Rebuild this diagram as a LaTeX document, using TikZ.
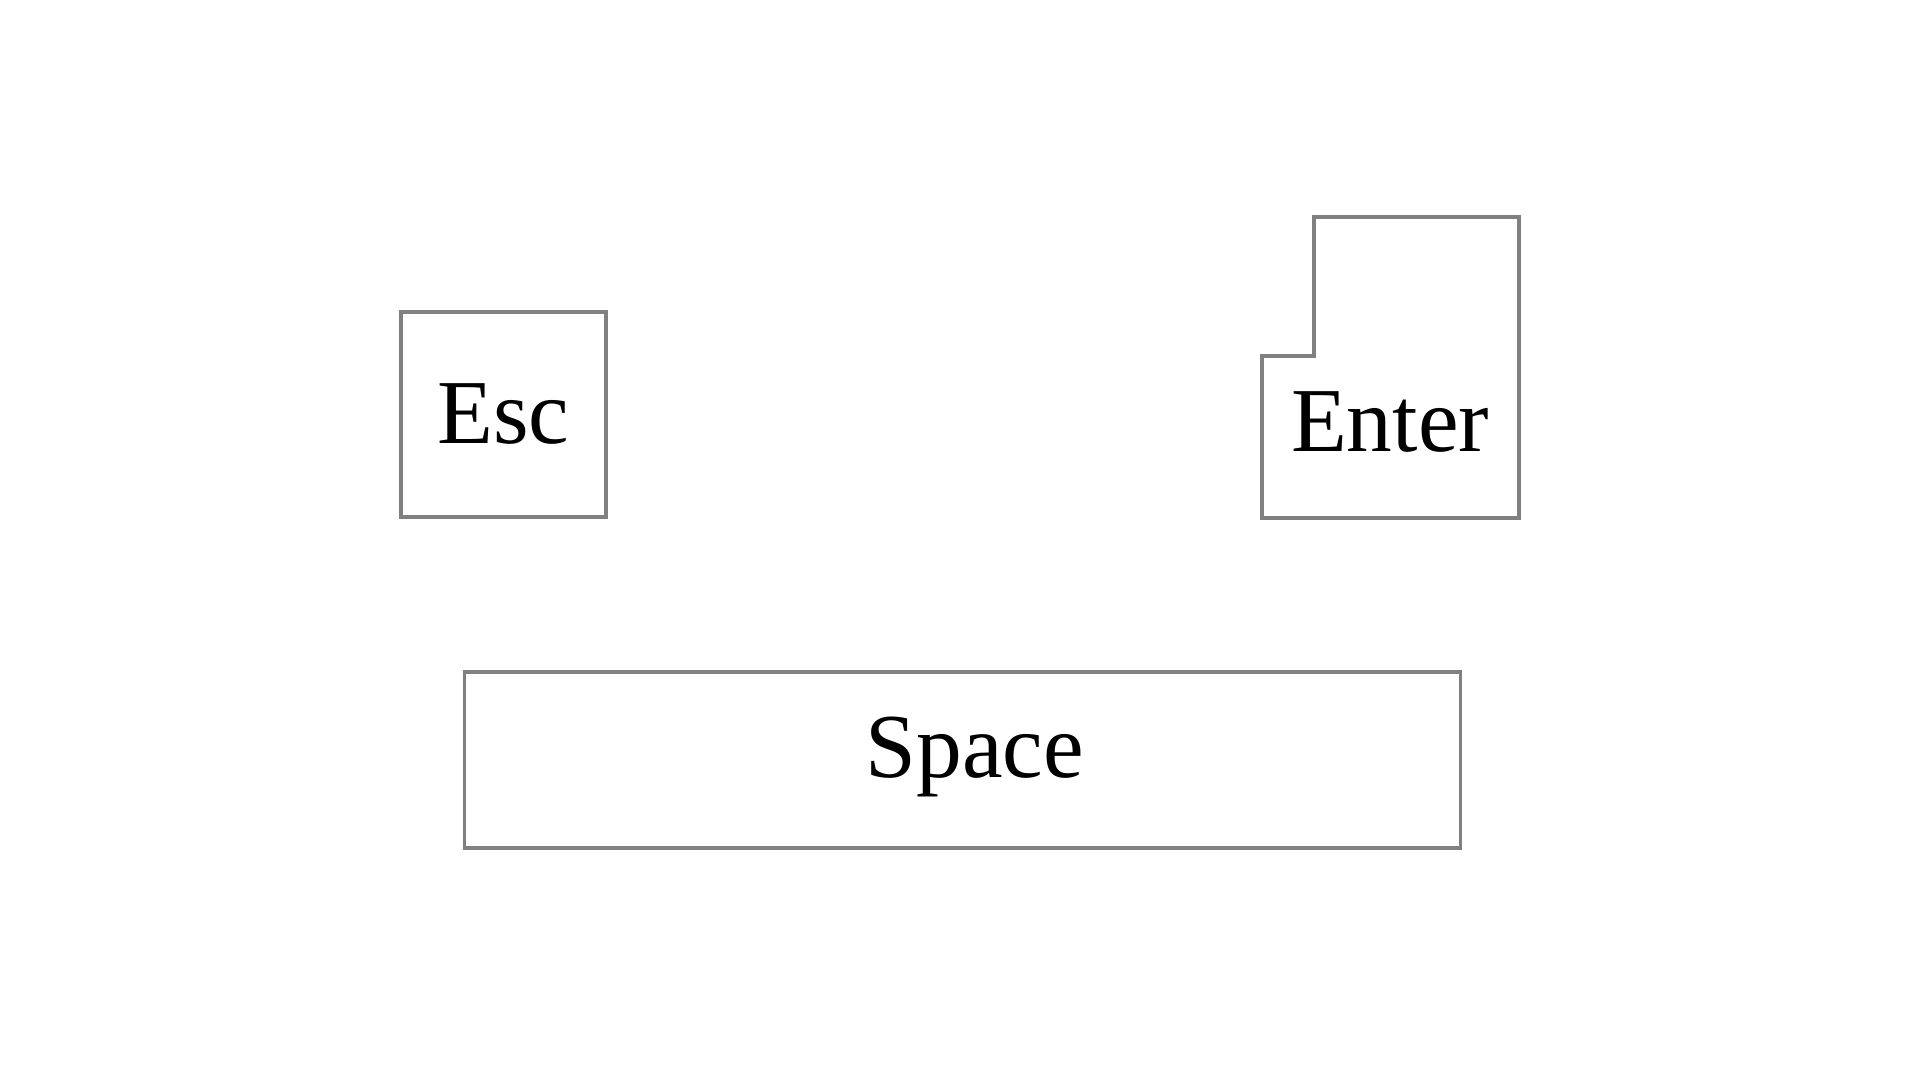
\documentclass[tikz,border=0pt]{standalone}
\usepackage{fontspec}
\setmainfont{Liberation Serif}
\begin{document}
\begin{tikzpicture}[x=0.01cm,y=-0.01cm,
  keybox/.style={draw=gray, line width=0.95pt, inner sep=0pt, font=\fontsize{26}{30}\selectfont},
  keytext/.style={inner sep=0pt, font=\fontsize{26}{30}\selectfont}]
\useasboundingbox (0,0) rectangle (1920,1080);
\node[keybox, minimum width=2.05cm, minimum height=2.05cm] (esc) at (503.5,414.5) {Esc};
\node[keybox, minimum width=9.95cm, minimum height=1.76cm] (space) at (962.5,760) {};
\node[keytext, anchor=base] (spacetext) at (975,778) {Space};
\draw[gray, line width=0.95pt] (1262,518) -- (1262,356) -- (1314,356) -- (1314,217) -- (1519,217) -- (1519,518) -- cycle;
\node[keytext, anchor=base] (enter) at (1390,452) {Enter};
\end{tikzpicture}
\end{document}
